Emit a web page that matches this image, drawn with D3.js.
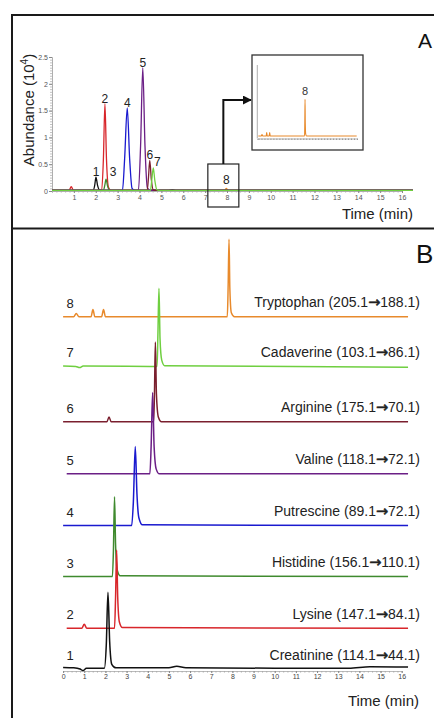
<!DOCTYPE html>
<html><head><meta charset="utf-8">
<script src="https://cdn.jsdelivr.net/npm/d3@7/dist/d3.min.js"></script>
<style>
html,body{margin:0;padding:0;background:#fff;}
svg{display:block;font-family:"Liberation Sans",Arial,sans-serif;}
</style></head>
<body>
<svg id="chart" width="434" height="718"></svg>
<script>
// ---------- DATA ----------
const compounds = ["Creatinine","Lysine","Histidine","Putrescine","Valine","Arginine","Cadaverine","Tryptophan"];
const precursors = ["114.1","147.1","156.1","89.1","118.1","175.1","103.1","205.1"];
const products = ["44.1","84.1","110.1","72.1","72.1","70.1","86.1","188.1"];
const peakNumbers = ["1","2","3","4","5","6","7","8"];
const colors = ["#111111","#d8262b","#3f8a2e","#1a1acf","#6b1f86","#7a1f2e","#6fcf40","#e88a2c"];

const xTicksA = [1,2,3,4,5,6,7,8,9,10,11,12,13,14,15,16];
const yTicksA = [0,0.5,1,1.5,2,2.5];
const xTicksB = [0,1,2,3,4,5,6,7,8,9,10,11,12,13,14,15,16];

// Panel A: overlaid traces (time min, abundance x10^4)
const A_creatinine = [[0,0.01],[1.88,0.01],[1.95,0.1],[2.01,0.26],[2.08,0.11],[2.17,0.02],[2.3,0.01],[5.3,0.01],[5.5,0.025],[5.7,0.01],[16.5,0.01]];
const A_lysine     = [[0,0.01],[0.78,0.01],[0.88,0.08],[0.98,0.01],[2.27,0.01],[2.35,0.6],[2.42,1.63],[2.49,0.6],[2.58,0.07],[2.7,0.01],[16.5,0.01]];
const A_histidine  = [[0,0.01],[2.35,0.01],[2.41,0.1],[2.47,0.22],[2.54,0.09],[2.64,0.01],[16.5,0.01]];
const A_putrescine = [[0,0.01],[3.22,0.01],[3.32,0.6],[3.44,1.55],[3.55,0.6],[3.66,0.05],[3.8,0.01],[16.5,0.01]];
const A_valine     = [[0,0.01],[3.95,0.01],[4.05,0.85],[4.15,2.3],[4.25,0.85],[4.36,0.06],[4.5,0.01],[16.5,0.01]];
const A_arginine   = [[0,0.01],[4.35,0.01],[4.41,0.25],[4.47,0.57],[4.54,0.22],[4.63,0.02],[4.76,0.01],[16.5,0.01]];
const A_cadaverine = [[0,0.01],[4.5,0.01],[4.56,0.2],[4.63,0.43],[4.7,0.2],[4.8,0.02],[4.93,0.01],[16.5,0.01]];
const A_tryptophan = [[0,0.01],[7.9,0.01],[7.97,0.05],[8.04,0.01],[16.5,0.01]];
const seriesA = [A_creatinine,A_lysine,A_histidine,A_putrescine,A_valine,A_arginine,A_cadaverine,A_tryptophan];

// Panel B: individual MRM traces (time min, relative intensity %)
const B_creatinine = [[0,2],[0.5,1.5],[0.8,0],[0.94,-2],[1.1,1],[1.95,1],[2.04,30],[2.12,97],[2.2,35],[2.3,6],[2.5,1.5],[5.0,1.5],[5.37,3.5],[5.8,1.5],[10,1],[13.5,1],[14.5,3],[16.3,2.5]];
const B_lysine     = [[0.17,0],[0.88,0],[1.0,5],[1.12,0],[2.43,0],[2.48,40],[2.53,99],[2.58,40],[2.66,8],[2.8,1],[16.3,0]];
const B_histidine  = [[0,0],[2.33,0],[2.38,35],[2.43,101],[2.48,40],[2.56,8],[2.7,1],[16.3,0]];
const B_putrescine = [[0,0],[3.24,0],[3.32,30],[3.41,100],[3.49,40],[3.58,10],[3.75,1],[16.3,0]];
const B_valine     = [[0.17,0],[4.1,0],[4.16,35],[4.23,103],[4.3,35],[4.4,6],[4.55,0],[16.3,0]];
const B_arginine   = [[0,0],[2.07,0],[2.17,6],[2.27,0],[4.28,0],[4.32,40],[4.36,101],[4.41,35],[4.5,6],[4.65,0],[16.3,0]];
const B_cadaverine = [[0,0.5],[0.6,0],[0.78,-1.5],[0.95,0.5],[4.44,0],[4.48,40],[4.53,99],[4.58,35],[4.66,8],[4.8,1],[16.3,-1]];
const B_tryptophan = [[0,0],[0.5,0],[0.62,4],[0.75,0],[1.32,0],[1.41,9],[1.5,0],[1.82,0],[1.91,9],[2.0,0],[7.76,0],[7.8,40],[7.84,98],[7.88,35],[7.95,5],[8.1,0],[16.3,0]];
const seriesB = [B_creatinine,B_lysine,B_histidine,B_putrescine,B_valine,B_arginine,B_cadaverine,B_tryptophan];
// vertical offsets of the stacked traces (relative intensity units)
const offsetsB = [0,51.5,117,181.5,247,313,383,446];

// ---------- DRAW ----------
const svg = d3.select("#chart");
const font = '"Liberation Sans",Arial,sans-serif';

const frame = svg.append("g").attr("stroke","#1a1a1a").attr("stroke-width",2).attr("fill","none");
frame.append("line").attr("x1",12).attr("x2",434).attr("y1",15).attr("y2",15);
frame.append("line").attr("x1",12).attr("x2",434).attr("y1",228.5).attr("y2",228.5);
frame.append("line").attr("x1",12).attr("x2",12).attr("y1",14).attr("y2",718);

// ===== Panel A =====
const xA = d3.scaleLinear().domain([0,16]).range([52,402]);
const yA = d3.scaleLinear().domain([0,2.5]).range([191,57]);

svg.append("g").attr("transform","translate(52,0)").call(d3.axisLeft(yA).ticks(50).tickSize(2).tickFormat(""))
  .call(g=>{g.select(".domain").attr("stroke","#999").attr("stroke-width",0.8);g.selectAll(".tick line").attr("stroke","#999").attr("stroke-width",0.6);});
svg.append("g").attr("transform","translate(52,0)").call(d3.axisLeft(yA).tickValues(yTicksA).tickSize(3).tickFormat(d=>d))
  .call(g=>{g.select(".domain").remove();g.selectAll(".tick line").attr("stroke","#888");
    g.selectAll("text").attr("font-size",7).attr("fill","#555").attr("font-family",font).attr("x",-4);});

svg.append("g").attr("transform","translate(0,191)").call(d3.axisBottom(xA).ticks(64).tickSize(1.5).tickFormat(""))
  .call(g=>{g.select(".domain").attr("stroke","#999").attr("stroke-width",0.8);g.selectAll(".tick line").attr("stroke","#aaa");});
svg.append("g").attr("transform","translate(0,191)").call(d3.axisBottom(xA).tickValues(xTicksA).tickSize(2).tickFormat(d=>d))
  .call(g=>{g.select(".domain").remove();g.selectAll(".tick line").attr("stroke","#888");
    g.selectAll("text").attr("font-size",7).attr("fill","#555").attr("font-family",font).attr("y",4);});

const lineA = d3.line().x(d=>xA(d[0])).y(d=>yA(d[1])).curve(d3.curveMonotoneX);
const orderA = [7,0,1,2,3,4,5,6];
svg.append("g").selectAll("path").data(orderA).join("path")
  .attr("d",i=>lineA(seriesA[i])).attr("fill","none")
  .attr("stroke",i=>colors[i]).attr("stroke-width",1.3);

const nudgeA = [0,0,7,0,0,0,4,0];
svg.append("g").selectAll("text").data(d3.range(7)).join("text")
  .attr("x",i=>{const m=d3.greatest(seriesA[i],d=>d[1]);return xA(m[0])+nudgeA[i];})
  .attr("y",i=>{const m=d3.greatest(seriesA[i],d=>d[1]);return yA(m[1])-1+(i===2?-2:0)+(i===6?-1:0);})
  .attr("text-anchor","middle").attr("font-size",12).attr("fill","#222").attr("font-family",font)
  .text(i=>peakNumbers[i]);

const p8 = d3.greatest(A_tryptophan,d=>d[1]);
svg.append("rect").attr("x",xA(p8[0])-18.5).attr("y",164).attr("width",31).attr("height",43)
  .attr("fill","none").attr("stroke","#222").attr("stroke-width",1.2);
svg.append("text").attr("x",xA(p8[0])).attr("y",183.5).attr("text-anchor","middle")
  .attr("font-size",12).attr("fill","#222").attr("font-family",font).text(peakNumbers[7]);

svg.append("defs").append("marker").attr("id","ah").attr("viewBox","0 0 10 10")
  .attr("refX",9).attr("refY",5).attr("markerWidth",4.5).attr("markerHeight",4.5).attr("orient","auto")
  .append("path").attr("d","M0,0L10,5L0,10z").attr("fill","#111");
svg.append("path").attr("d",`M${xA(p8[0])-3},164 V100 H251`).attr("fill","none")
  .attr("stroke","#111").attr("stroke-width",2).attr("marker-end","url(#ah)");

// inset
svg.append("rect").attr("x",252).attr("y",55).attr("width",111).attr("height",95)
  .attr("fill","#fff").attr("stroke","#333").attr("stroke-width",1.3);
const xI = d3.scaleLinear().domain([0,16]).range([258.3,353.7]);
const yI = d3.scaleLinear().domain([0,100]).range([136,98.6]);
svg.append("line").attr("x1",257.3).attr("x2",257.3).attr("y1",65).attr("y2",138.5).attr("stroke","#999").attr("stroke-width",0.8);
svg.append("g").attr("transform","translate(0,138.5)")
  .call(d3.axisBottom(d3.scaleLinear().domain([-0.2,16.5]).range([257.3,357])).ticks(40).tickSize(1.5).tickFormat(""))
  .call(g=>{g.select(".domain").attr("stroke","#999").attr("stroke-width",0.8);g.selectAll(".tick line").attr("stroke","#999");});
const lineI = d3.line().x(d=>xI(d[0])).y(d=>yI(d[1])).curve(d3.curveMonotoneX);
svg.append("path").attr("d",lineI(B_tryptophan.concat([[16.5,0]]))).attr("fill","none")
  .attr("stroke",colors[7]).attr("stroke-width",1.1);
const pI = d3.greatest(B_tryptophan,d=>d[1]);
svg.append("text").attr("x",xI(pI[0])).attr("y",yI(pI[1])-4).attr("text-anchor","middle")
  .attr("font-size",11).attr("fill","#333").attr("font-family",font).text(peakNumbers[7]);

const yt = svg.append("text").attr("transform","translate(33.5,110) rotate(-90)")
  .attr("text-anchor","middle").attr("font-size",15).attr("fill","#222").attr("font-family",font);
yt.append("tspan").text("Abundance (10");
yt.append("tspan").attr("font-size",10).attr("dy",-6).text("4");
yt.append("tspan").attr("dy",6).text(")");
svg.append("text").attr("x",413).attr("y",218.5).attr("text-anchor","end")
  .attr("font-size",15).attr("fill","#222").attr("font-family",font).text("Time (min)");
svg.append("text").attr("x",418).attr("y",48).attr("font-size",21).attr("fill","#111").attr("font-family",font).text("A");

// ===== Panel B =====
const xB = d3.scaleLinear().domain([0,16]).range([63.1,401.7]);
const yB = d3.scaleLinear().domain([0,100]).range([669,590]);

svg.append("g").attr("transform","translate(0,671)")
  .call(d3.axisBottom(xB).ticks(64).tickSize(1.5).tickFormat(""))
  .call(g=>{g.select(".domain").attr("stroke","#aaa").attr("stroke-width",0.8);g.selectAll(".tick line").attr("stroke","#aaa");});
svg.append("g").attr("transform","translate(0,671)")
  .call(d3.axisBottom(xB).tickValues(xTicksB).tickSize(2).tickFormat(d=>d))
  .call(g=>{g.select(".domain").remove();g.selectAll(".tick line").attr("stroke","#888");
    g.selectAll("text").attr("font-size",7).attr("fill","#444").attr("font-family",font).attr("y",3.5);});

const lineB = d3.line().x(d=>xB(d[0])).y(d=>yB(d[1])).curve(d3.curveMonotoneX);
const orderB = [7,6,5,4,3,2,1,0];
svg.append("g").selectAll("path").data(orderB).join("path")
  .attr("d",i=>lineB(seriesB[i].map(d=>[d[0],d[1]+offsetsB[i]])))
  .attr("fill","none").attr("stroke",i=>colors[i]).attr("stroke-width",1.5);

svg.append("g").selectAll("text").data(d3.range(8)).join("text")
  .attr("x",70).attr("y",i=>yB(offsetsB[i])-9)
  .attr("text-anchor","middle").attr("font-size",13).attr("fill","#222").attr("font-family",font)
  .text(i=>peakNumbers[i]);

const labs = svg.append("g").selectAll("text").data(d3.range(8)).join("text")
  .attr("x",420).attr("y",i=>yB(offsetsB[i])-9.5)
  .attr("text-anchor","end").attr("font-size",14).attr("fill","#222").attr("font-family",font);
labs.append("tspan").text(i=>`${compounds[i]} (${precursors[i]}`);
labs.append("tspan").attr("font-family","DejaVu Sans").attr("font-size",14.5).attr("stroke","#222").attr("stroke-width",0.5).text("→");
labs.append("tspan").text(i=>`${products[i]})`);

svg.append("text").attr("x",419).attr("y",706).attr("text-anchor","end")
  .attr("font-size",15).attr("fill","#222").attr("font-family",font).text("Time (min)");
svg.append("text").attr("x",416).attr("y",263).attr("font-size",26).attr("fill","#111").attr("font-family",font).text("B");
</script>
</body></html>
